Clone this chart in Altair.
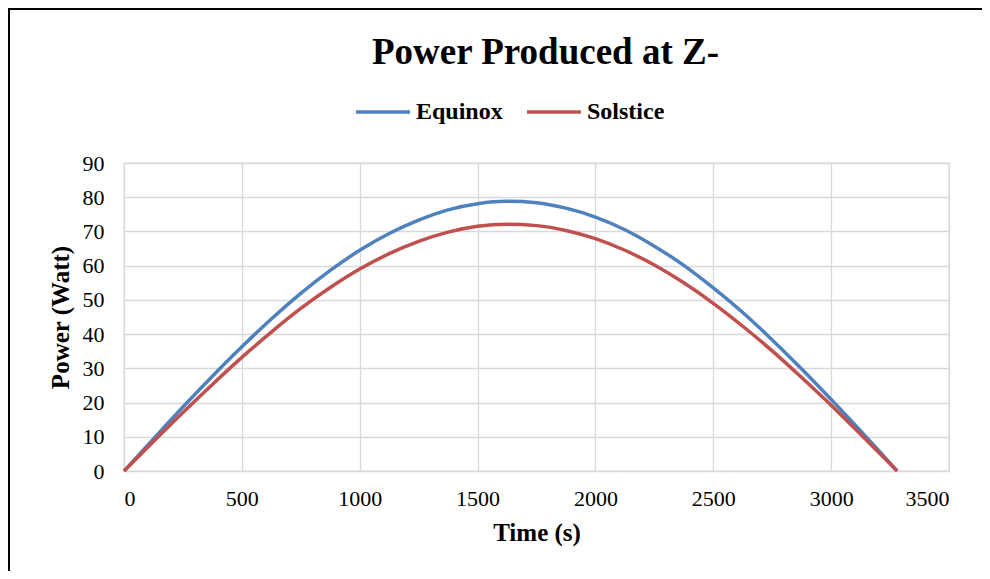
import altair as alt
import pandas as pd

# Values
time_s = [0, 125, 250, 375, 500, 625, 750, 875, 1000, 1125, 1250, 1375, 1500, 1625,
          1750, 1875, 2000, 2125, 2250, 2375, 2500, 2625, 2750, 2875, 3000, 3125, 3250, 3280]
equinox = [0, 9.4, 18.7, 27.7, 36.3, 44.4, 51.9, 58.6, 64.5, 69.4, 73.3, 76.3, 78.1, 78.8,
           78.4, 76.8, 74.2, 70.5, 65.7, 60.1, 53.5, 46.3, 38.3, 29.8, 20.9, 11.7, 2.3, 0]
solstice = [0, 8.6, 17.1, 25.3, 33.2, 40.6, 47.5, 53.6, 59.0, 63.5, 67.1, 69.8, 71.5, 72.1,
            71.7, 70.3, 67.9, 64.5, 60.2, 55.0, 49.0, 42.3, 35.1, 27.3, 19.2, 10.7, 2.1, 0]
series_names = ["Equinox", "Solstice"]
series_colors = ["#4F81BD", "#C0504D"]
x_ticks = [0, 500, 1000, 1500, 2000, 2500, 3000, 3500]
y_ticks = [0, 10, 20, 30, 40, 50, 60, 70, 80, 90]

rows = []
for t, e, s in zip(time_s, equinox, solstice):
    rows.append({"Time": t, "Power": e, "Series": "Equinox"})
    rows.append({"Time": t, "Power": s, "Series": "Solstice"})
df = pd.DataFrame(rows)

FONT = "Liberation Serif"

lines = alt.Chart(df).mark_line(strokeWidth=3.5, interpolate="monotone").encode(
    x=alt.X("Time:Q", title="Time (s)",
            scale=alt.Scale(domain=[0, 3500], nice=False),
            axis=alt.Axis(values=x_ticks, format="d", labelPadding=17, titlePadding=11)),
    y=alt.Y("Power:Q", title="Power (Watt)",
            scale=alt.Scale(domain=[0, 90], nice=False),
            axis=alt.Axis(values=y_ticks, format="d", labelPadding=20, titlePadding=9)),
    color=alt.Color("Series:N",
                    scale=alt.Scale(domain=series_names, range=series_colors),
                    legend=alt.Legend(title=None, orient="none", direction="horizontal",
                                      legendX=230, legendY=-80,
                                      symbolType="stroke", symbolSize=2916,
                                      symbolStrokeWidth=3.5, labelOffset=4,
                                      columnPadding=17, labelFont=FONT,
                                      labelFontSize=24, labelFontWeight="bold",
                                      labelColor="black")),
)

one = pd.DataFrame({"k": [0]})
frame_top = alt.Chart(one).mark_rule(stroke="black", strokeWidth=2).encode(
    x=alt.value(-115), x2=alt.value(858), y=alt.value(-154))
frame_left = alt.Chart(one).mark_rule(stroke="black", strokeWidth=2).encode(
    x=alt.value(-115), y=alt.value(-155), y2=alt.value(408))

chart = alt.layer(frame_top, frame_left, lines).properties(
    width=825, height=308,
    autosize=alt.AutoSizeParams(type="none"),
    padding={"left": 116, "top": 155, "right": 33, "bottom": 100},
    title=alt.TitleParams(text="Power Produced at Z-", font=FONT, fontSize=37,
                          fontWeight="bold", color="black", anchor="middle",
                          frame="group", baseline="alphabetic", offset=-94, dx=9),
).configure_axis(
    labelFont=FONT, labelFontSize=22, labelColor="black",
    titleFont=FONT, titleFontSize=25, titleFontWeight="bold", titleColor="black",
    ticks=False, domainColor="#D9D9D9", gridColor="#D9D9D9", gridWidth=1.3,
).configure_view(stroke="#D9D9D9", strokeWidth=1.3)

chart.save("out.html", embed_options={"renderer": "svg", "actions": False})
